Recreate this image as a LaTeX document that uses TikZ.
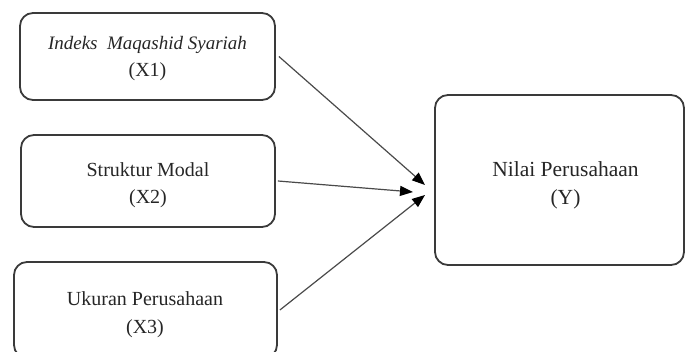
\documentclass[tikz,border=0pt]{standalone}
\usepackage{fontspec}
\setmainfont{Liberation Serif}
\usetikzlibrary{arrows.meta}
\definecolor{boxline}{HTML}{3A3A3A}
\definecolor{arrline}{HTML}{4A4A4A}
\definecolor{txt}{HTML}{262626}
\begin{document}
\begin{tikzpicture}[x=1pt,y=-1pt,
  varbox/.style={draw=boxline,line width=1.8pt,rounded corners=13pt,inner sep=0pt},
  vartext/.style={align=center,text=txt,inner sep=0pt,font=\fontsize{20}{27.5}\selectfont},
  link/.style={draw=arrline,line width=1.2pt,-{Triangle[length=13pt,width=10pt,color=black]}}]
\useasboundingbox (0,0) rectangle (686,352);
\clip (0,0) rectangle (686,352);
\node[varbox,minimum width=255pt,minimum height=87pt] (x1) at (147.5,56.5) {};
\node[varbox,minimum width=254pt,minimum height=92pt] (x2) at (148,181) {};
\node[varbox,minimum width=263pt,minimum height=96pt] (x3) at (145.5,310) {};
\node[varbox,minimum width=249pt,minimum height=170pt] (y) at (559.5,180) {};
\node[vartext] (x1t) at ([yshift=-2pt]x1.center)
  {{\fontsize{19}{27.5}\selectfont\itshape Indeks\ \ Maqashid Syariah}\\(X1)};
\node[vartext] (x2t) at ([yshift=-4pt]x2.center) {Struktur Modal\\(X2)};
\node[vartext] (x3t) at ([yshift=-4.5pt,xshift=-0.5pt]x3.center) {Ukuran Perusahaan\\(X3)};
\node[vartext,font=\fontsize{21.5}{28}\selectfont] (yt) at ([yshift=-5pt,xshift=6pt]y.center)
  {Nilai Perusahaan\\(Y)};
\coordinate (t1) at (425,185);
\coordinate (t2) at (413,192);
\coordinate (t3) at (425,195);
\draw[link] ([xshift=3pt]x1.east) -- (t1);
\draw[link] ([xshift=2pt]x2.east) -- (t2);
\draw[link] ([xshift=2pt]x3.east) -- (t3);
\end{tikzpicture}
\end{document}
